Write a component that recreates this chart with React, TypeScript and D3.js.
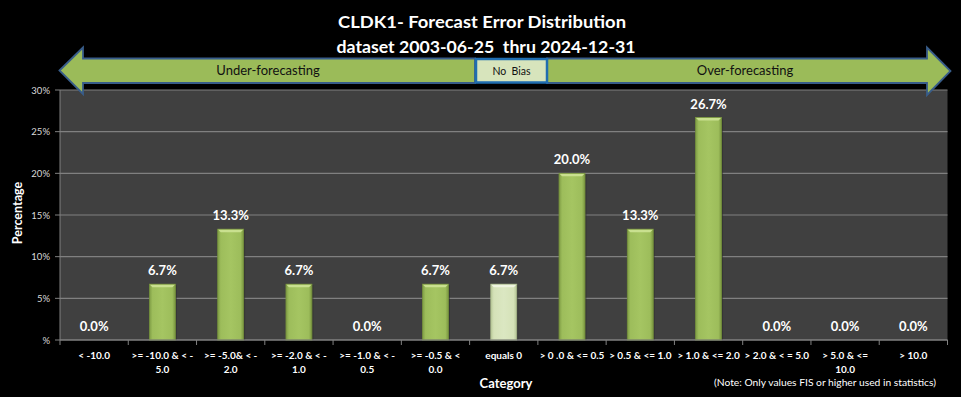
import React from "react";
import * as d3 from "d3";

const categories: string[][] = [
  ["< -10.0"],
  [">= -10.0 & < -", "5.0"],
  [">= -5.0& < -", "2.0"],
  [">= -2.0 & < -", "1.0"],
  [">= -1.0 & < -", "0.5"],
  [">= -0.5 & <", "0.0"],
  ["equals 0"],
  ["> 0 .0 & <= 0.5"],
  ["> 0.5 & <= 1.0"],
  ["> 1.0 & <= 2.0"],
  ["> 2.0 & < = 5.0"],
  ["> 5.0 & <=", "10.0"],
  ["> 10.0"],
];
const values: number[] = [0, 6.7, 13.3, 6.7, 0, 6.7, 6.7, 20.0, 13.3, 26.7, 0, 0, 0];
const yTicks: number[] = [0, 5, 10, 15, 20, 25, 30];
const titleLines: string[] = ["CLDK1- Forecast Error Distribution", "dataset 2003-06-25  thru 2024-12-31"];
const noBiasIndex = 6;

const W = 961;
const H = 397;
const FONT = "Lato, 'Open Sans', sans-serif";

export default function App() {
  const left = 60, right = 947.5, top = 90, bottom = 340;
  const keys = categories.map((_, i) => String(i));
  const x = d3.scaleBand<string>().domain(keys).range([left, right]).paddingInner(0.62).paddingOuter(0.31);
  const y = d3.scaleLinear().domain([0, 30]).range([bottom, top]);
  const step = x.step();
  const bw = x.bandwidth();

  const leftArrow = d3.line()([
    [59.5, 70.5], [83, 47.5], [83, 58.5], [475, 58.5], [475, 83], [83, 83], [83, 94],
  ]) + "Z";
  const rightArrow = d3.line()([
    [547, 58.5], [927, 58.5], [927, 47.5], [950.5, 71], [927, 95], [927, 83], [547, 83],
  ]) + "Z";

  return (
    <svg width={W} height={H} style={{ position: "absolute", left: 0, top: 0, background: "#000" }}>
      <defs>
        <linearGradient id="barG" x1="0" x2="1" y1="0" y2="0">
          <stop offset="0" stopColor="#7f9d45" />
          <stop offset="0.12" stopColor="#9dbd5b" />
          <stop offset="0.5" stopColor="#a5c562" />
          <stop offset="0.88" stopColor="#9dbd5b" />
          <stop offset="1" stopColor="#7a9640" />
        </linearGradient>
        <linearGradient id="barL" x1="0" x2="1" y1="0" y2="0">
          <stop offset="0" stopColor="#b9c99a" />
          <stop offset="0.12" stopColor="#d5e2b8" />
          <stop offset="0.5" stopColor="#dbe7c2" />
          <stop offset="0.88" stopColor="#d5e2b8" />
          <stop offset="1" stopColor="#b3c394" />
        </linearGradient>
      </defs>
      <rect x={0} y={0} width={W} height={H} fill="#000" />
      {/* title */}
      <text x={482} y={28} textAnchor="middle" fill="#fff" fontFamily={FONT} fontWeight="bold" fontSize={17.5}
        textLength={288} lengthAdjust="spacingAndGlyphs">{titleLines[0]}</text>
      <text x={486} y={53} textAnchor="middle" fill="#fff" fontFamily={FONT} fontWeight="bold" fontSize={17.5}
        textLength={299} lengthAdjust="spacingAndGlyphs" style={{ whiteSpace: "pre" }}>{titleLines[1]}</text>

      {/* plot area */}
      <rect x={left} y={top} width={right - left} height={bottom - top} fill="#404040" />
      {yTicks.map((t) => (
        <g key={t}>
          <line x1={left} x2={right} y1={y(t)} y2={y(t)} stroke="#808080" strokeWidth={1.2} />
          <line x1={left - 5} x2={left} y1={y(t)} y2={y(t)} stroke="#808080" strokeWidth={1} />
          <text x={50} y={y(t) + 3.5} textAnchor="end" fill="#d9d9d9" fontFamily={FONT} fontSize={9.5}>
            {t === 0 ? "%" : `${t}%`}
          </text>
        </g>
      ))}
      <line x1={left} x2={left} y1={top} y2={bottom} stroke="#808080" strokeWidth={1} />
      {d3.range(categories.length + 1).map((i) => (
        <line key={i} x1={left + i * step} x2={left + i * step} y1={bottom} y2={bottom + 5} stroke="#808080" strokeWidth={1} />
      ))}

      {/* bars */}
      {values.map((v, i) => {
        const bx = x(String(i))!;
        const by = y(v);
        const h = bottom - by;
        const light = i === noBiasIndex;
        return (
          <g key={i}>
            {h > 0 && (
              <>
                <rect x={bx + 1.5} y={by + 1} width={bw} height={h - 1} fill="#2e2e2e" opacity={0.6} />
                <rect x={bx} y={by} width={bw} height={h} fill={light ? "url(#barL)" : "url(#barG)"} />
                <path d={`M${bx},${by}L${bx + bw},${by}L${bx + bw - 3},${by + 3}L${bx + 3},${by + 3}Z`}
                  fill={light ? "#eef4e0" : "#c9e08f"} />
                <rect x={bx} y={by} width={bw} height={h} fill="none" stroke={light ? "#a9b98b" : "#76923c"} strokeWidth={0.8} />
              </>
            )}
            <text x={bx + bw / 2} y={by - 9} textAnchor="middle" fill="#fff" fontFamily={FONT} fontWeight="bold" fontSize={13}>
              {v.toFixed(1)}%
            </text>
          </g>
        );
      })}
      <line x1={left} x2={right} y1={bottom} y2={bottom} stroke="#808080" strokeWidth={1.2} />

      {/* category labels */}
      {categories.map((lines, i) => (
        <text key={i} x={x(String(i))! + bw / 2} y={359} textAnchor="middle" fill="#fff" fontFamily={FONT}
          fontWeight="bold" fontSize={10}>
          {lines.map((l, j) => (
            <tspan key={j} x={x(String(i))! + bw / 2} dy={j === 0 ? 0 : 13.5}>{l}</tspan>
          ))}
        </text>
      ))}

      {/* axis titles */}
      <text transform="translate(22,213) rotate(-90)" textAnchor="middle" fill="#fff" fontFamily={FONT}
        fontWeight="bold" fontSize={12.5}>Percentage</text>
      <text x={506} y={388} textAnchor="middle" fill="#fff" fontFamily={FONT} fontWeight="bold" fontSize={13}>Category</text>
      <text x={825} y={386} textAnchor="middle" fill="#fff" fontFamily={FONT} fontSize={9.5}
        textLength={222} lengthAdjust="spacingAndGlyphs">(Note: Only values FIS or higher used in statistics)</text>

      {/* bias arrows */}
      <path d={leftArrow} fill="#9bbb59" stroke="#385d8a" strokeWidth={1.8} strokeLinejoin="miter" />
      <path d={rightArrow} fill="#9bbb59" stroke="#385d8a" strokeWidth={1.8} strokeLinejoin="miter" />
      <rect x={476} y={59} width={71} height={23.5} fill="#d7e4bc" stroke="#1f6db0" strokeWidth={2.5} />
      <text x={268} y={75} textAnchor="middle" fill="#111" fontFamily={FONT} fontSize={13}>Under-forecasting</text>
      <text x={745} y={75} textAnchor="middle" fill="#111" fontFamily={FONT} fontSize={13}>Over-forecasting</text>
      <text x={511.5} y={74.5} textAnchor="middle" fill="#111" fontFamily={FONT} fontSize={10.5}
        style={{ whiteSpace: "pre" }}>No  Bias</text>
    </svg>
  );
}
